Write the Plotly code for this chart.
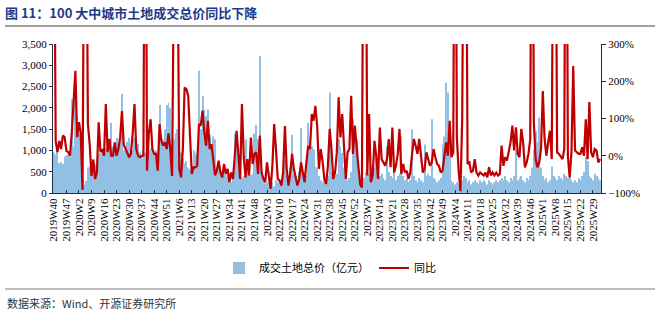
import plotly.graph_objects as go

# weekly categories 2019W40 .. 2025W33
weeks = []
yr, wk = 2019, 40
for _ in range(306):
    weeks.append(f"{yr}W{wk}")
    wk += 1
    if wk > 52:
        yr += 1
        wk = 1

tick_labels = weeks[::7]

land_value = [
    950, 900, 1000, 700, 720, 680, 850, 880, 900, 860,
    2200, 1100, 2550, 1500, 1400, 1350, 300, 200, 280, 600,
    620, 650, 700, 680, 720, 900, 950, 1000, 980, 1050,
    1200, 1250, 1650, 1100, 1200, 1300, 1150, 1250, 2330, 1000,
    1100, 1200, 1300, 1050, 1000, 1300, 1200, 1150, 950, 900,
    1000, 950, 900, 1000, 1050, 1000, 950, 1000, 900, 2070,
    1300, 1260, 1500, 2070, 2120, 2000, 1150, 1260, 1400, 1500,
    900, 950, 800, 700, 750, 600, 550, 500, 1000, 950,
    900, 2870, 1500, 2270, 1960, 1800, 1960, 1370, 1100, 1330,
    1260, 620, 600, 460, 500, 450, 420, 380, 300, 250,
    400, 1400, 1100, 1020, 380, 350, 400, 1260, 500, 460,
    420, 450, 1400, 1600, 1260, 3220, 460, 400, 230, 250,
    300, 200, 250, 150, 300, 250, 200, 300, 460, 780,
    450, 400, 600, 1370, 450, 400, 300, 500, 1530, 500,
    450, 400, 1650, 1260, 1100, 1020, 620, 600, 400, 300,
    250, 300, 200, 400, 2360, 500, 460, 400, 450, 1260,
    1100, 940, 600, 400, 300, 350, 500, 1730, 1500, 1260,
    400, 300, 250, 350, 500, 620, 450, 620, 620, 600,
    860, 600, 400, 450, 350, 300, 1100, 500, 400, 350,
    500, 300, 400, 450, 1330, 400, 300, 350, 250, 300,
    1500, 400, 300, 250, 350, 300, 250, 1140, 400, 450,
    400, 1730, 350, 300, 250, 300, 350, 1140, 1330, 2590,
    2360, 1570, 300, 250, 200, 250, 200, 250, 300, 400,
    350, 250, 300, 200, 250, 300, 250, 200, 300, 250,
    300, 250, 200, 300, 250, 200, 250, 300, 250, 300,
    350, 300, 400, 300, 250, 350, 300, 400, 1020, 300,
    350, 400, 300, 250, 350, 300, 400, 600, 1020, 1450,
    1200, 1770, 600, 400, 300, 350, 250, 300, 620, 400,
    350, 300, 400, 350, 300, 450, 400, 350, 380, 300,
    250, 300, 250, 350, 300, 400, 500, 860, 750, 400,
    350, 300, 450, 400, 350, 300,
]

yoy_pct = [
    800, 40, 10, 40, 18, 54, 50, 13, 10, 0,
    63, 150, 228, 50, 90, 60, -92, 800, 800, 85,
    30, -54, -10, -62, -45, 90, 10, 18, 0, 139,
    10, 45, 0, 0, 36, 0, 18, 50, 120, 30,
    18, 9, -4, 5, 60, 139, 18, 0, -4, 0,
    0, 1200, -40, 60, 98, 18, 5, 5, -40, 85,
    40, 27, 36, 18, 60, 18, -54, 500, 900, 600,
    -36, -58, 18, 183, 179, 161, 45, -49, -31, -31,
    -27, 85, 81, 121, 63, 27, 94, 18, 31, -18,
    -53, -40, -13, -45, -58, -22, -49, -35, -71, -45,
    -62, 0, 67, 5, -62, 139, 0, -58, -9, -53,
    49, -22, 5, 9, -49, 54, -45, -62, -71, -18,
    -62, -89, -27, 85, 18, -62, -67, -80, -45, 80,
    -35, -80, -45, 5, -35, -62, -80, -62, -18, -45,
    -71, -18, 27, 18, 112, 94, 134, 81, -35, 18,
    -13, -62, -76, -27, 72, 18, -62, -45, 9, 157,
    49, 112, 23, -62, 9, 18, 161, 5, 81, 18,
    -27, -76, -85, 900, 900, -53, 112, -71, -53, 40,
    0, -62, 76, -9, -18, -27, -9, 45, -31, 76,
    -45, -27, 5, 72, -49, -22, -45, -40, -62, -45,
    5, 45, 27, 5, 45, 5, -45, -35, 9, -9,
    -27, -18, 18, -4, -22, -27, -45, -40, 5, 36,
    0, 94, -4, 9, 1200, 50, -40, -95, 100, 900,
    900, -22, -18, -45, -40, -9, -45, -53, -45, -49,
    -53, -45, -58, -31, -53, -45, -53, -45, -53, -49,
    27, -27, -4, -13, 9, 36, 81, 14, 76, 5,
    -4, 72, 36, -31, -18, 5, 45, 1200, 90, -9,
    -31, -18, 18, 174, 45, 0, 36, 67, -9, 900,
    900, 9, 5, -4, -9, 18, 1200, 0, -58, 9,
    241, 14, 9, 5, 5, 23, 0, 98, -9, 144,
    9, -4, 18, 14, -18, -9,
]

W, H = 660, 316
L, R, T, B = 53, 601, 44, 193
def px(x):
    return (x - L) / (R - L)
def py(y):
    return (B - y) / (B - T)

serif = "Liberation Serif"
cjk = "Noto Sans CJK SC"

fig = go.Figure()
fig.add_trace(go.Bar(
    x=weeks, y=land_value, name="成交土地总价（亿元）",
    marker=dict(color="#92BFE4", line=dict(width=0)),
    yaxis="y",
))
fig.add_trace(go.Scatter(
    x=weeks, y=yoy_pct, name="同比", mode="lines",
    line=dict(color="#C00000", width=2.2),
    yaxis="y2",
))

fig.update_layout(
    width=W, height=H, autosize=False,
    margin=dict(l=L, r=W - R, t=T, b=H - B, pad=0),
    plot_bgcolor="white", paper_bgcolor="white",
    bargap=0.45,
    showlegend=True,
    legend=dict(
        orientation="h", xref="container", yref="container",
        x=0.5, xanchor="center", y=1 - 268 / H, yanchor="middle",
        font=dict(family=cjk, size=11, color="#000"),
        itemwidth=30, tracegroupgap=0,
    ),
    xaxis=dict(
        type="category", range=[-0.5, len(weeks) - 0.5],
        tickmode="array", tickvals=tick_labels, ticktext=tick_labels,
        tickangle=-90, tickfont=dict(family=serif, size=11, color="#000"),
        showline=True, linecolor="#1F2F4F", linewidth=1,
        ticks="inside", ticklen=3, tickcolor="#1F2F4F",
        showgrid=False, zeroline=False,
    ),
    yaxis=dict(
        range=[0, 3500], dtick=500, tickformat=",",
        tickfont=dict(family=serif, size=11, color="#000"),
        showline=True, linecolor="#1F2F4F", linewidth=1,
        ticks="outside", ticklen=3, tickcolor="#1F2F4F",
        showgrid=False, zeroline=False,
    ),
    yaxis2=dict(
        overlaying="y", side="right", anchor="x",
        range=[-100, 300], dtick=100, ticksuffix="%",
        tickfont=dict(family=serif, size=11, color="#000"),
        showline=True, linecolor="#1F2F4F", linewidth=1,
        ticks="outside", ticklen=4, tickcolor="#1F2F4F",
        showgrid=False, zeroline=False,
    ),
    title=dict(
        text="<b>图 11：100 大中城市土地成交总价同比下降</b>",
        xref="container", yref="container",
        x=5 / W, xanchor="left", y=1 - 13 / H, yanchor="middle",
        font=dict(family=cjk, size=13, color="#1C3A8C"),
    ),
    shapes=[
        dict(type="line", xref="paper", yref="paper",
             x0=px(5), x1=px(655), y0=py(26), y1=py(26),
             line=dict(color="#808080", width=1.5)),
        dict(type="line", xref="paper", yref="paper",
             x0=px(5), x1=px(655), y0=py(289), y1=py(289),
             line=dict(color="#808080", width=1.2)),
    ],
    annotations=[
        dict(text="数据来源：Wind、开源证券研究所", xref="paper", yref="paper",
             x=px(5), xanchor="left", y=py(303), yanchor="middle",
             showarrow=False, font=dict(family=cjk, size=11, color="#333")),
    ],
)

fig.write_html("out.html")
